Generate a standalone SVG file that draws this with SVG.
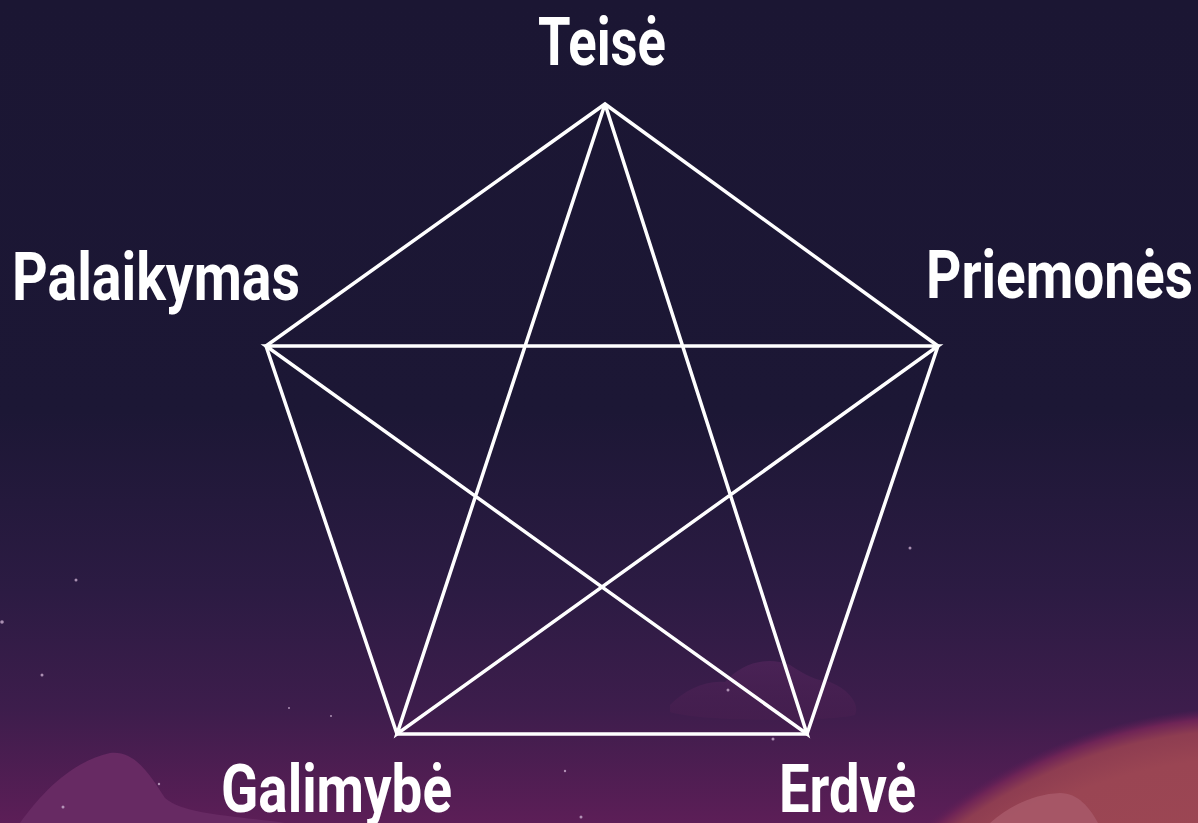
<svg xmlns="http://www.w3.org/2000/svg" width="1198" height="823" viewBox="0 0 1198 823">
<defs>
<linearGradient id="bg" x1="0" y1="0" x2="0" y2="1">
<stop offset="0" stop-color="#1b1633"/>
<stop offset="0.5" stop-color="#1c1735"/>
<stop offset="0.72" stop-color="#2c1b43"/>
<stop offset="0.86" stop-color="#3d1d4c"/>
<stop offset="1" stop-color="#5c1e57"/>
</linearGradient>
<radialGradient id="glow" cx="1250" cy="1222" r="515" gradientUnits="userSpaceOnUse">
<stop offset="0" stop-color="#a44c55"/>
<stop offset="0.9" stop-color="#9a4553"/>
<stop offset="0.955" stop-color="#8e3d51"/>
<stop offset="0.98" stop-color="#6e2456"/>
<stop offset="1" stop-color="#5a1d55" stop-opacity="0"/>
</radialGradient>
<linearGradient id="cloud" x1="0" y1="0" x2="0" y2="1">
<stop offset="0" stop-color="#50245a"/>
<stop offset="1" stop-color="#4a1f50" stop-opacity="0.6"/>
</linearGradient>
<style>
.lbl{font-family:Roboto,"Liberation Sans",sans-serif;font-weight:700;font-size:67px;fill:#ffffff}
.edge{stroke:#ffffff;stroke-width:3.5;fill:none;stroke-linejoin:miter}
.star{fill:#c9aecd;opacity:0.8}
</style>
</defs>
<rect width="1198" height="823" fill="url(#bg)"/>
<g id="decor">
<circle cx="1250" cy="1222" r="515" fill="url(#glow)"/>
<path d="M990 823 C1010 805 1035 794 1060 793 C1078 793 1090 808 1098 823 Z" fill="#a8596a" opacity="0.85"/>
<path d="M20 823 C40 795 70 762 110 753 C135 750 150 775 165 798 C185 815 230 815 285 823 Z" fill="#672a63"/>
<path d="M670 705 C685 690 705 680 725 682 C740 665 765 655 790 665 C805 675 815 680 830 682 C850 690 860 705 855 715 C830 722 700 722 670 712 Z" fill="url(#cloud)" opacity="0.75"/>
<circle class="star" cx="76" cy="580" r="1.5"/>
<circle class="star" cx="2" cy="622" r="1.8"/>
<circle class="star" cx="42" cy="675" r="1.5"/>
<circle class="star" cx="289" cy="708" r="1"/>
<circle class="star" cx="331" cy="716" r="1"/>
<circle class="star" cx="159" cy="784" r="1.2"/>
<circle class="star" cx="63" cy="807" r="1.5"/>
<circle class="star" cx="565" cy="771" r="1.2"/>
<circle class="star" cx="581" cy="817" r="1.5"/>
<circle class="star" cx="728" cy="690" r="1.5"/>
<circle class="star" cx="773" cy="739" r="1.5"/>
<circle class="star" cx="910" cy="548" r="1.5"/>
</g>
<g id="connectors">
<polygon class="edge" points="605,104 938,346 807,734 397,734 266,346"/>
<polyline class="edge" points="605,104 397,734 938,346 266,346 807,734 605,104"/>
</g>
<g id="node-teise"><text class="lbl" x="538" y="65" textLength="128" lengthAdjust="spacingAndGlyphs">Teisė</text></g>
<g id="node-palaikymas"><text class="lbl" x="12" y="300" textLength="288" lengthAdjust="spacingAndGlyphs">Palaikymas</text></g>
<g id="node-priemones"><text class="lbl" x="926" y="298" textLength="267" lengthAdjust="spacingAndGlyphs">Priemonės</text></g>
<g id="node-galimybe"><text class="lbl" x="221" y="812" textLength="231" lengthAdjust="spacingAndGlyphs">Galimybė</text></g>
<g id="node-erdve"><text class="lbl" x="779" y="812" textLength="137" lengthAdjust="spacingAndGlyphs">Erdvė</text></g>
</svg>
